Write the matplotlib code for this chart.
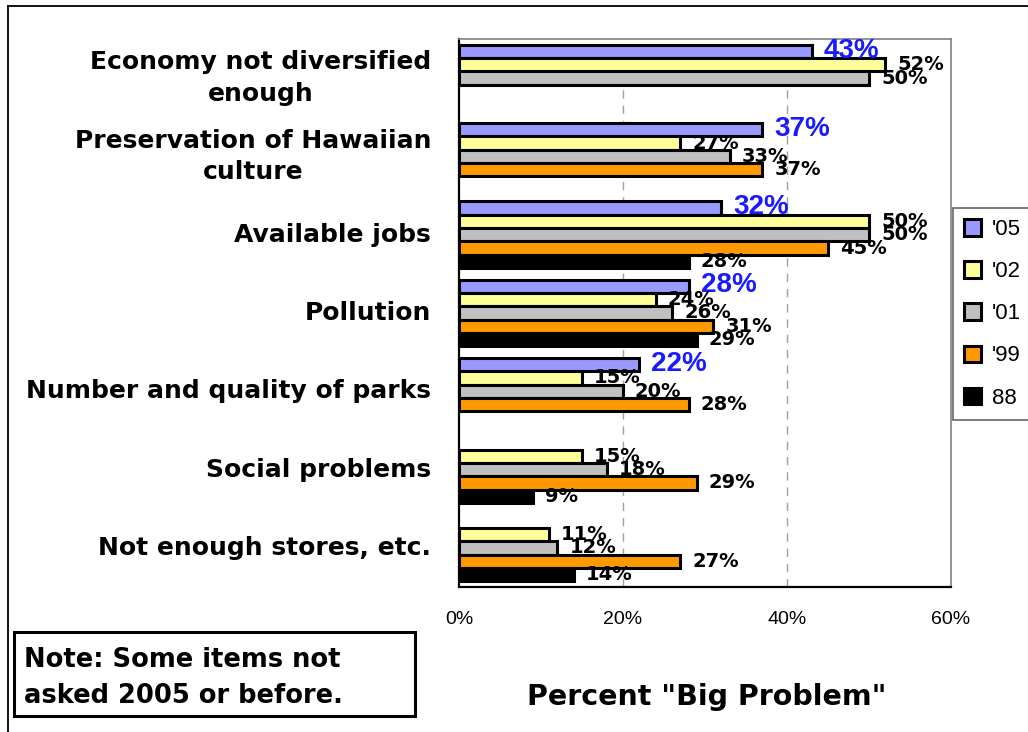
import matplotlib
matplotlib.use("Agg")
import matplotlib.pyplot as plt
from matplotlib.lines import Line2D
from matplotlib.patches import Rectangle
import numpy as np

plt.rcParams['font.family'] = ['Liberation Sans', 'DejaVu Sans']
WIDE = ['DejaVu Sans', 'Liberation Sans']

categories = [
    "Economy not diversified\nenough",
    "Preservation of Hawaiian\nculture",
    "Available jobs",
    "Pollution",
    "Number and quality of parks",
    "Social problems",
    "Not enough stores, etc.",
]
series_names = ["'05", "'02", "'01", "'99", "88"]
vals_05 = [43, 37, 32, 28, 22, None, None]
vals_02 = [52, 27, 50, 24, 15, 15, 11]
vals_01 = [50, 33, 50, 26, 20, 18, 12]
vals_99 = [None, 37, 45, 31, 28, 29, 27]
vals_88 = [None, None, 28, 29, None, 9, 14]
series_values = [vals_05, vals_02, vals_01, vals_99, vals_88]
colors = ["#9999FF", "#FFFF99", "#C0C0C0", "#FF9900", "#000000"]
x_ticks = [0, 20, 40, 60]

W, H = 1028, 732
fig = plt.figure(figsize=(W / 100, H / 100), dpi=100)
fig.patch.set_facecolor("white")

def fx(px):
    return px / W

def fy(py):
    return 1 - py / H

ax = fig.add_axes([fx(459), fy(587), fx(951) - fx(459), fy(39) - fy(587)])

bar_h = 0.17
y_base = np.arange(len(categories))
for j, (name, vals, col) in enumerate(zip(series_names, series_values, colors)):
    ys, xs = [], []
    for i, v in enumerate(vals):
        if v is not None:
            ys.append(y_base[i] + (j - 2) * bar_h)
            xs.append(v)
    ax.barh(ys, xs, height=bar_h, color=col, edgecolor="black",
            linewidth=2.2, label=name, zorder=3)
    for y, v in zip(ys, xs):
        if j == 0:
            ax.annotate(f"{v}%", xy=(v, y), xytext=(12, 1),
                        textcoords="offset pixels", ha="left", va="center",
                        fontsize=20, fontweight="bold", color="#1a1aff",
                        zorder=5)
        else:
            ax.annotate(f"{v}%", xy=(v, y), xytext=(12, 0),
                        textcoords="offset pixels", ha="left", va="center",
                        fontsize=14, fontweight="bold", color="black",
                        family=WIDE, zorder=5)

ax.set_xlim(0, 60)
ax.set_ylim(len(categories) - 0.5, -0.5)
ax.set_xticks(x_ticks)
ax.set_xticklabels([f"{t}%" for t in x_ticks], fontsize=14)
ax.set_yticks(y_base)
ax.set_yticklabels(categories, fontsize=18, fontweight="bold", family=WIDE,
                   multialignment="center", linespacing=1.4)
for lbl in ax.get_yticklabels():
    lbl.set_verticalalignment("center")
ax.tick_params(axis="both", length=0)
ax.tick_params(axis="x", pad=17)
ax.tick_params(axis="y", pad=20)

for x in [20, 40]:
    ax.axvline(x, color="#a0a0a0", linestyle=(0, (6, 5)), linewidth=1, zorder=1)

for side in ["top", "right"]:
    ax.spines[side].set_color("#808080")
    ax.spines[side].set_linewidth(1.2)
for side in ["left", "bottom"]:
    ax.spines[side].set_color("black")
    ax.spines[side].set_linewidth(1.6)

fig.text(fx(707), fy(697), 'Percent "Big Problem"', ha="center", va="center",
         fontsize=20.5, fontweight="bold", family=WIDE)

leg = fig.legend(loc="upper left", bbox_to_anchor=(fx(953), fy(208)),
                 borderaxespad=0, frameon=True, fancybox=False,
                 fontsize=16, handlelength=0.75, handleheight=0.75,
                 labelspacing=0.95, handletextpad=0.5, borderpad=0.5)
leg.get_frame().set_edgecolor("#404040")
leg.get_frame().set_linewidth(1.2)

# note box
fig.patches.append(Rectangle((fx(14), fy(716)), fx(415) - fx(14), fy(632) - fy(716),
                             transform=fig.transFigure, fill=False,
                             edgecolor="black", linewidth=2.2))
fig.text(fx(24), fy(660), "Note: Some items not", ha="left", va="center",
         fontsize=18.5, fontweight="bold", family=WIDE)
fig.text(fx(24), fy(696), "asked 2005 or before.", ha="left", va="center",
         fontsize=18.5, fontweight="bold", family=WIDE)

# outer frame
fig.lines.append(Line2D([fx(8), 1], [fy(6), fy(6)], transform=fig.transFigure,
                        color="black", linewidth=1.3))
fig.lines.append(Line2D([fx(8), fx(8)], [fy(6), 0], transform=fig.transFigure,
                        color="black", linewidth=1.3))

fig.savefig("out.png", dpi=100)
